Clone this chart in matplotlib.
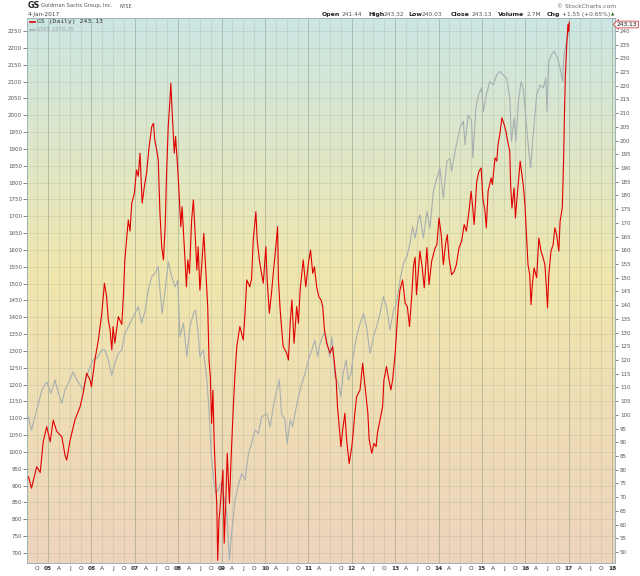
import numpy as np
import matplotlib
matplotlib.use("Agg")
import matplotlib.pyplot as plt
from matplotlib.colors import LinearSegmentedColormap

# GS (daily, dividend adjusted) - decimal year / price
gs_t = [2004.55, 2004.62, 2004.74, 2004.82, 2004.89, 2004.97, 2005.05, 2005.12, 2005.20, 2005.32,
        2005.39, 2005.43, 2005.51, 2005.62, 2005.74, 2005.81, 2005.89, 2005.97, 2006.00, 2006.08,
        2006.16, 2006.24, 2006.30, 2006.35, 2006.39, 2006.43, 2006.47, 2006.50, 2006.54, 2006.62,
        2006.70, 2006.74, 2006.77, 2006.81, 2006.85, 2006.89, 2006.93, 2006.99, 2007.04, 2007.08,
        2007.12, 2007.17, 2007.22, 2007.27, 2007.33, 2007.39, 2007.43, 2007.46, 2007.50, 2007.54,
        2007.58, 2007.62, 2007.66, 2007.70, 2007.73, 2007.77, 2007.81, 2007.83, 2007.87, 2007.91,
        2007.94, 2007.99, 2008.02, 2008.06, 2008.09, 2008.14, 2008.19, 2008.22, 2008.26, 2008.31,
        2008.35, 2008.39, 2008.43, 2008.46, 2008.50, 2008.54, 2008.59, 2008.64, 2008.68, 2008.71,
        2008.74, 2008.77, 2008.80, 2008.83, 2008.86, 2008.89, 2008.91, 2008.94, 2008.96, 2009.03,
        2009.06, 2009.10, 2009.13, 2009.18, 2009.23, 2009.27, 2009.31, 2009.35, 2009.42, 2009.50,
        2009.54, 2009.58, 2009.65, 2009.69, 2009.73, 2009.79, 2009.82, 2009.87, 2009.92, 2009.96,
        2010.02, 2010.05, 2010.10, 2010.15, 2010.19, 2010.25, 2010.29, 2010.31, 2010.35, 2010.38,
        2010.42, 2010.50, 2010.54, 2010.58, 2010.62, 2010.67, 2010.73, 2010.77, 2010.81, 2010.85,
        2010.88, 2010.94, 2011.00, 2011.05, 2011.10, 2011.14, 2011.19, 2011.24, 2011.29, 2011.33,
        2011.37, 2011.42, 2011.50, 2011.56, 2011.60, 2011.64, 2011.67, 2011.71, 2011.75, 2011.79,
        2011.84, 2011.88, 2011.94, 2012.00, 2012.03, 2012.07, 2012.11, 2012.19, 2012.25, 2012.29,
        2012.33, 2012.37, 2012.40, 2012.46, 2012.51, 2012.56, 2012.59, 2012.65, 2012.71, 2012.74,
        2012.80, 2012.84, 2012.90, 2012.94, 2013.00, 2013.03, 2013.07, 2013.11, 2013.17, 2013.23,
        2013.28, 2013.33, 2013.38, 2013.42, 2013.46, 2013.49, 2013.57, 2013.62, 2013.67, 2013.73,
        2013.78, 2013.84, 2013.92, 2013.96, 2014.01, 2014.06, 2014.11, 2014.16, 2014.20, 2014.24,
        2014.30, 2014.36, 2014.41, 2014.47, 2014.53, 2014.59, 2014.64, 2014.70, 2014.75, 2014.78,
        2014.82, 2014.88, 2014.93, 2014.98, 2015.02, 2015.07, 2015.10, 2015.14, 2015.21, 2015.24,
        2015.30, 2015.34, 2015.37, 2015.41, 2015.46, 2015.51, 2015.55, 2015.59, 2015.64, 2015.66,
        2015.69, 2015.74, 2015.77, 2015.82, 2015.88, 2015.91, 2015.95, 2015.99, 2016.03, 2016.06,
        2016.10, 2016.13, 2016.16, 2016.20, 2016.26, 2016.31, 2016.36, 2016.41, 2016.45, 2016.49,
        2016.51, 2016.54, 2016.59, 2016.64, 2016.68, 2016.72, 2016.77, 2016.80, 2016.85, 2016.88,
        2016.90, 2016.92, 2016.95, 2016.98, 2017.00, 2017.01]
gs_px = [77.4, 73.3, 81.1, 79.0, 90.2, 95.7, 90.2, 98.1, 94.0, 92.0,
         85.4, 83.5, 90.8, 98.1, 103.0, 107.9, 115.2, 112.7, 110.3, 120.0,
         127.3, 137.0, 148.0, 143.1, 134.6, 131.0, 123.7, 132.2, 126.2, 135.8,
         133.0, 144.3, 156.5, 163.8, 171.1, 167.0, 177.2, 180.8, 189.3, 187.0,
         195.4, 177.2, 183.2, 188.0, 197.8, 205.1, 206.3, 200.2, 197.0, 193.0,
         173.5, 161.3, 156.5, 168.6, 186.9, 205.1, 214.8, 220.9, 207.5, 195.4,
         201.5, 189.3, 180.8, 168.6, 175.9, 161.3, 146.7, 156.5, 151.6, 171.1,
         178.4, 166.2, 152.8, 161.3, 145.5, 154.0, 166.2, 151.6, 139.5, 120.0,
         113.9, 96.9, 109.0, 89.6, 77.5, 66.5, 47.0, 61.7, 65.0, 79.9,
         53.2, 70.2, 86.0, 67.8, 88.4, 103.0, 115.2, 124.9, 132.2, 127.3,
         137.1, 149.2, 146.7, 149.5, 163.8, 174.1, 163.8, 156.5, 151.6, 148.0,
         161.3, 149.2, 137.1, 144.4, 151.6, 161.3, 168.6, 149.2, 138.2, 132.2,
         124.9, 122.5, 120.0, 133.4, 141.9, 126.1, 139.5, 133.4, 145.5, 151.6,
         156.5, 146.7, 155.3, 160.1, 151.6, 154.0, 146.7, 143.1, 141.9, 139.5,
         131.0, 126.1, 122.5, 124.9, 118.8, 112.7, 103.0, 95.7, 88.4, 94.5,
         100.6, 91.1, 82.3, 88.4, 93.3, 100.6, 106.6, 109.1, 118.8, 112.7,
         106.6, 100.6, 91.1, 86.0, 89.6, 88.4, 93.3, 98.1, 103.0, 112.7,
         117.6, 114.0, 109.1, 112.7, 122.5, 129.7, 139.5, 145.5, 149.2, 140.7,
         139.5, 132.2, 143.1, 154.0, 157.5, 143.8, 159.7, 154.0, 146.3, 161.0,
         147.5, 156.0, 160.9, 162.0, 171.8, 165.7, 154.8, 162.1, 165.7, 157.2,
         151.1, 152.3, 154.8, 160.9, 163.3, 169.4, 167.0, 174.2, 181.5, 176.6,
         169.4, 185.2, 188.8, 190.0, 179.0, 174.2, 168.2, 181.5, 186.4, 184.0,
         193.7, 192.5, 198.5, 202.2, 208.3, 205.9, 203.5, 199.8, 196.2, 184.0,
         175.4, 182.7, 171.8, 181.5, 192.5, 188.8, 184.0, 176.6, 164.5, 154.8,
         151.1, 140.2, 147.5, 153.6, 150.0, 164.5, 159.7, 157.2, 154.8, 145.0,
         139.0, 151.1, 159.7, 162.1, 168.2, 165.7, 159.7, 170.6, 175.4, 192.5,
         209.5, 222.9, 233.8, 242.3, 239.8, 243.13]

# S&P 500 index overlay
spx_t = [2004.55, 2004.62, 2004.74, 2004.86, 2004.97, 2005.07, 2005.16, 2005.24, 2005.32, 2005.39,
         2005.47, 2005.58, 2005.66, 2005.74, 2005.81, 2005.89, 2005.97, 2006.04, 2006.14, 2006.24,
         2006.31, 2006.39, 2006.47, 2006.54, 2006.62, 2006.70, 2006.77, 2006.89, 2007.00, 2007.08,
         2007.16, 2007.24, 2007.31, 2007.39, 2007.46, 2007.54, 2007.58, 2007.63, 2007.70, 2007.77,
         2007.85, 2007.93, 2007.99, 2008.04, 2008.12, 2008.20, 2008.27, 2008.35, 2008.40, 2008.46,
         2008.50, 2008.58, 2008.66, 2008.71, 2008.76, 2008.81, 2008.86, 2008.92, 2009.00, 2009.04,
         2009.12, 2009.18, 2009.23, 2009.31, 2009.38, 2009.46, 2009.54, 2009.62, 2009.69, 2009.77,
         2009.85, 2009.92, 2010.04, 2010.12, 2010.19, 2010.27, 2010.33, 2010.38, 2010.46, 2010.51,
         2010.58, 2010.64, 2010.69, 2010.77, 2010.85, 2010.92, 2011.00, 2011.08, 2011.15, 2011.21,
         2011.27, 2011.35, 2011.41, 2011.49, 2011.54, 2011.61, 2011.69, 2011.75, 2011.80, 2011.87,
         2011.92, 2011.98, 2012.03, 2012.11, 2012.19, 2012.27, 2012.34, 2012.42, 2012.50, 2012.57,
         2012.65, 2012.73, 2012.80, 2012.88, 2012.96, 2013.03, 2013.11, 2013.19, 2013.27, 2013.34,
         2013.40, 2013.46, 2013.53, 2013.57, 2013.65, 2013.73, 2013.80, 2013.88, 2013.96, 2014.03,
         2014.11, 2014.19, 2014.26, 2014.30, 2014.38, 2014.49, 2014.57, 2014.61, 2014.68, 2014.76,
         2014.79, 2014.86, 2014.92, 2014.99, 2015.03, 2015.10, 2015.18, 2015.26, 2015.34, 2015.41,
         2015.49, 2015.57, 2015.64, 2015.68, 2015.74, 2015.78, 2015.84, 2015.90, 2015.95, 2015.99,
         2016.05, 2016.12, 2016.18, 2016.26, 2016.34, 2016.41, 2016.47, 2016.50, 2016.54, 2016.60,
         2016.66, 2016.74, 2016.80, 2016.86, 2016.89, 2016.93, 2016.96, 2016.99, 2017.01]
spx_px = [1104, 1065, 1124, 1184, 1208, 1174, 1214, 1174, 1144, 1184,
          1204, 1238, 1214, 1199, 1184, 1224, 1253, 1273, 1280, 1303,
          1303, 1273, 1228, 1263, 1293, 1303, 1352, 1382, 1411, 1431,
          1382, 1421, 1481, 1520, 1530, 1550, 1481, 1411, 1481, 1565,
          1520, 1490, 1510, 1342, 1382, 1283, 1372, 1411, 1421, 1352,
          1283, 1303, 1214, 1124, 996, 926, 877, 887, 910, 877,
          818, 679, 758, 857, 897, 936, 916, 996, 1025, 1065,
          1055, 1104, 1114, 1075, 1134, 1184, 1214, 1114, 1095, 1025,
          1095, 1075, 1114, 1164, 1204, 1233, 1273, 1303, 1332, 1283,
          1323, 1352, 1342, 1283, 1342, 1223, 1204, 1164, 1233, 1273,
          1214, 1233, 1283, 1342, 1382, 1411, 1372, 1293, 1342, 1372,
          1411, 1461, 1431, 1362, 1421, 1441, 1510, 1560, 1580, 1619,
          1669, 1635, 1689, 1704, 1635, 1714, 1664, 1774, 1813, 1843,
          1754, 1863, 1872, 1833, 1893, 1962, 1982, 1912, 2001, 1982,
          1873, 2021, 2061, 2081, 2011, 2061, 2100, 2090, 2120, 2130,
          2120, 2110, 2051, 1922, 1992, 1922, 2041, 2100, 2081, 2021,
          1932, 1843, 1942, 2061, 2090, 2081, 2110, 2011, 2160, 2179,
          2190, 2170, 2140, 2100, 2179, 2209, 2229, 2239, 2270.75]

quarter_letters = ["A", "J", "O"]

W, H = 640, 576
fig = plt.figure(figsize=(W / 100, H / 100), dpi=100)
fig.patch.set_facecolor("white")

# plot area in pixel terms
L, R, T, B = 27, 615, 18, 563
ax = fig.add_axes([L / W, 1 - B / H, (R - L) / W, (B - T) / H])

# background gradient teal -> yellow -> peach
cmap = LinearSegmentedColormap.from_list(
    "bg", [(0.0, "#cbe6e4"), (0.47, "#f0e6ad"), (1.0, "#edd4bd")])
grad = np.linspace(0, 1, 256).reshape(-1, 1)
ax.imshow(grad, extent=[0, 1, 0, 1], transform=ax.transAxes, aspect="auto",
          cmap=cmap, zorder=0)

ax.set_xlim(2004.516, 2018.065)
ax.set_ylim(670.3, 2288.6)

# x ticks: quarters, year labels bold
xt, xl = [], []
for y in range(2004, 2018):
    for q, frac in enumerate([0.0, 0.25, 0.5, 0.75]):
        pos = y + frac
        if pos < 2004.7:
            continue
        xt.append(pos)
        xl.append("%02d" % (y % 100) if q == 0 else quarter_letters[q - 1])
xt.append(2018.0)
xl.append("18")
for pos, lab in zip(xt, xl):
    is_year = lab.isdigit()
    ax.axvline(pos, color="#7f8c78" if is_year else "#a0a58e",
               lw=0.7 if is_year else 0.5, alpha=0.45 if is_year else 0.35, zorder=1)
ax.set_xticks(xt)
ax.set_xticklabels(xl)
for t in ax.get_xticklabels():
    if t.get_text().isdigit():
        t.set_fontweight("bold")
ax.tick_params(axis="x", length=0, pad=2.5, labelsize=4.2, colors="#333333")

# left axis: $SPX scale
ax.set_yticks(np.arange(700, 2251, 50))
ax.tick_params(axis="y", length=3, width=0.5, pad=0.5, labelsize=4.0,
               colors="#555555")
ax.grid(axis="y", color="#a0a58e", lw=0.5, alpha=0.35, zorder=1)
ax.set_axisbelow(False)

ax.plot(spx_t, spx_px, color="#a7afb1", lw=0.8, zorder=3)

# right axis: GS price
ax2 = ax.twinx()
ax2.set_ylim(46.0, 244.7)
ax2.set_yticks(np.arange(50, 241, 5))
ax2.tick_params(axis="y", length=2, width=0.5, pad=1.5, labelsize=4.0,
                colors="#555555")
ax2.plot(gs_t, gs_px, color="#e00000", lw=0.8, zorder=4)

for a in (ax, ax2):
    for s in a.spines.values():
        s.set_color("#9fb3b8")
        s.set_linewidth(0.7)

# legend inside plot
def fx(px):
    return px / W


def fy(py):
    return 1 - py / H


fig.lines.append(plt.Line2D([fx(30), fx(35)], [fy(22), fy(22)], color="#e00000",
                            lw=1.2, transform=fig.transFigure))
fig.text(fx(37), fy(22), "GS (Daily) 243.13", fontsize=4.6, family="DejaVu Sans Mono",
         va="center", color="#333333")
fig.lines.append(plt.Line2D([fx(30), fx(35)], [fy(30), fy(30)], color="#a7afb1",
                            lw=1.2, transform=fig.transFigure))
fig.text(fx(37), fy(30), r"\$SPX 2270.75", fontsize=3.8, va="center", color="#9aa0a3")

# header
fig.text(fx(28), fy(6), "GS", fontsize=5.8, fontweight="bold", va="center", color="#222222")
fig.text(fx(41), fy(6), "Goldman Sachs Group, Inc.", fontsize=3.8, va="center",
         color="#555555")
fig.text(fx(120), fy(6), "NYSE", fontsize=3.4, va="center", color="#555555")
fig.text(fx(28), fy(14.5), "4-Jan-2017", fontsize=4.2, va="center", color="#444444")
fig.text(fx(616), fy(6), "\u00a9 StockCharts.com", fontsize=4.3, va="center", ha="right",
         color="#666666")

ohlc = [("Open", 321.7, True), ("241.44", 342, False), ("High", 368.3, True),
        ("243.32", 383.5, False), ("Low", 408.3, True), ("240.03", 421.7, False),
        ("Close", 451, True), ("243.13", 471.7, False), ("Volume", 498.3, True),
        ("2.7M", 526.7, False), ("Chg", 546.7, True), ("+1.55 (+0.65%)", 561.7, False)]
for txt, xp, bold in ohlc:
    fig.text(fx(xp), fy(14.5), txt, fontsize=4.5 if bold else 4.2,
             fontweight="bold" if bold else "normal", va="center",
             color="#222222" if bold else "#555555")
fig.text(fx(610.5), fy(14.5), "\u25b2", fontsize=3.2, va="center", color="#1a6e1a")

# last price tag on right axis
fig.text(fx(617), fy(24.5), "243.13", fontsize=4.2, va="center", ha="left", color="#222222",
         bbox=dict(boxstyle="larrow,pad=0.15", fc="#f6f6f6", ec="#d04040", lw=0.6))

fig.savefig("out.png", dpi=100)
